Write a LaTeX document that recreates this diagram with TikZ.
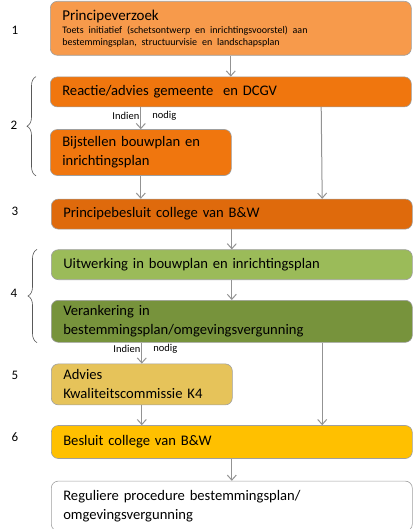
\documentclass[tikz,border=0pt]{standalone}
\usepackage{fontspec}
\setmainfont{Carlito}
\usepackage{xcolor}
\usetikzlibrary{arrows.meta, positioning, calc, decorations.pathreplacing}
\definecolor{lichtoranje}{HTML}{F79A4B}
\definecolor{oranje}{HTML}{F0760E}
\definecolor{donkeroranje}{HTML}{DF6A0C}
\definecolor{lichtgroen}{HTML}{9BBB59}
\definecolor{olijfgroen}{HTML}{77933C}
\definecolor{oker}{HTML}{E6C35A}
\definecolor{goud}{HTML}{FFC000}
\tikzset{
    stap/.style={draw=gray!75, line width=0.6pt, rounded corners=7pt, inner xsep=12pt, inner ysep=1pt,
        align=left, font=\fontsize{14.6}{19}\selectfont, text=black}, % elke stap in het schema
    breed/.style={stap, text width=337pt}, % volle breedte
    smal/.style={stap, text width=157pt}, % halve breedte
    nummer/.style={font=\fontsize{13}{15}\selectfont},
    klein/.style={font=\fontsize{10.5}{12}\selectfont, inner sep=1pt},
    pijl/.style={every edge/.style={draw=gray!85, line width=1pt, ->}}, % grijze verbindingen
    accolade/.style={decorate, decoration={brace, amplitude=9pt}, draw=gray!70!black, line width=0.6pt},
}
\begin{document}
\begin{tikzpicture}[x=1pt, y=-1pt, >={Straight Barb[length=5pt,width=9pt]}]
                \useasboundingbox (0,0) rectangle (415,529);
                % Stappen
                \node[breed, fill=lichtoranje, minimum height=54pt, anchor=north west] (verzoek) at (50,1)
                    {{\fontsize{15}{18}\selectfont Principeverzoek\par}\vspace{1pt}{\raggedright\fontsize{10}{12}\selectfont Toets initiatief (schetsontwerp en inrichtingsvoorstel) aan\\ bestemmingsplan, structuurvisie en landschapsplan\par}};
                \node[breed, fill=oranje, minimum height=30pt] (reactie) [below right=21pt and 0pt of verzoek.south west] {Reactie/advies gemeente \ en DCGV};
                \node[smal, fill=oranje, minimum height=46pt] (bijstellen) [below right=22pt and 0pt of reactie.south west] {Bijstellen bouwplan en\\ inrichtingsplan};
                \node[breed, fill=donkeroranje, minimum height=30pt] (principebesluit) [below right=23pt and 1pt of bijstellen.south west] {Principebesluit college van B\&W};
                \node[breed, fill=lichtgroen, minimum height=30pt] (uitwerking) [below right=20pt and 0pt of principebesluit.south west] {Uitwerking in bouwplan en inrichtingsplan};
                \node[breed, fill=olijfgroen, minimum height=42pt] (verankering) [below right=20pt and 0pt of uitwerking.south west] {Verankering in\\ bestemmingsplan/omgevingsvergunning};
                \node[smal, fill=oker, minimum height=41pt] (advies) [below right=21pt and 0pt of verankering.south west] {Advies\\ Kwaliteitscommissie K4};
                \node[breed, fill=goud, minimum height=33pt] (besluit) [below right=20pt and 0pt of advies.south west] {Besluit college van B\&W};
                \node[breed, fill=white, minimum height=50pt] (regulier) [below right=22pt and 0pt of besluit.south west] {Reguliere procedure bestemmingsplan/\\ omgevingsvergunning};

                % Nummers
                \node[nummer] (n1) at (15,30) {1};
                \node[nummer] (n2) at (14,125) {2};
                \node[nummer] (n3) at (15,211) {3};
                \node[nummer] (n4) at (14,293) {4};
                \node[nummer] (n5) at (15,375) {5};
                \node[nummer] (n6) at (15,437) {6};

                % Accolades
                \draw[accolade] ([xshift=-14pt]bijstellen.south west) -- ([xshift=-14pt]reactie.north west);
                \draw[accolade] ([xshift=-14pt]verankering.south west) -- ([xshift=-14pt]uitwerking.north west);

                % Pijlen
                \path[pijl]
                (verzoek) edge (reactie)
                (reactie.south -| bijstellen) edge node[klein, pos=0.4, left=0pt] (indien1) {Indien}
                                                   node[klein, pos=0.4, right=10pt] (nodig1) {nodig} (bijstellen)
                ($(reactie.south west)!0.75!(reactie.south east)$) edge ($(principebesluit.north west)!0.75!(principebesluit.north east)$)
                (bijstellen) edge (bijstellen |- principebesluit.north)
                (principebesluit) edge (uitwerking)
                (uitwerking) edge (verankering)
                (verankering.south -| advies) edge node[klein, pos=0.3, left=0pt] (indien2) {Indien}
                                                  node[klein, pos=0.3, right=10pt] (nodig2) {nodig} (advies)
                ($(verankering.south west)!0.75!(verankering.south east)$) edge ($(besluit.north west)!0.75!(besluit.north east)$)
                (advies) edge (advies |- besluit.north)
                (besluit) edge (regulier);
            \end{tikzpicture}
\end{document}
